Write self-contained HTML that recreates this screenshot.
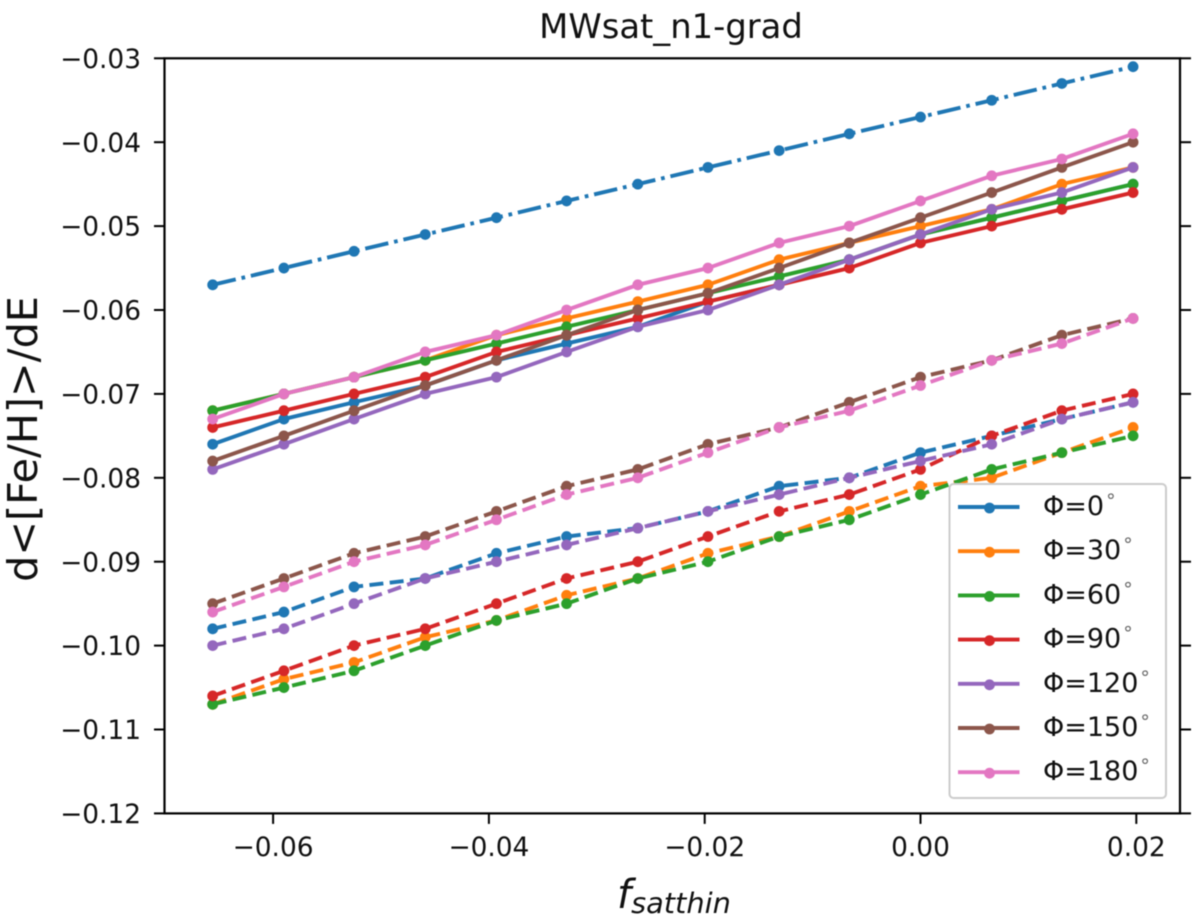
<!DOCTYPE html>
<html lang="en">
<head>
<meta charset="utf-8">
<title>MWsat_n1-grad</title>
<style>
  html, body { margin: 0; padding: 0; background: #fff; }
  body { width: 1200px; height: 921px; overflow: hidden; }
  svg { display: block; filter: blur(0.55px); }
  text { font-family: "DejaVu Sans", "Liberation Sans", sans-serif; fill: #111; }
</style>
</head>
<body>
<svg id="chart" xmlns="http://www.w3.org/2000/svg" width="1200" height="921" viewBox="0 0 1200 921">
  <rect x="0" y="0" width="1200" height="921" fill="#fff"/>
  <text x="671" y="38" font-size="33.8" text-anchor="middle">MWsat_n1-grad</text>
  <text transform="translate(37,439) rotate(-90)" font-size="41.3" text-anchor="middle">d&lt;[Fe/H]&gt;/dE</text>
  <text x="617" y="908" font-size="40" font-style="italic">f<tspan font-size="28.8" dy="5">satthin</tspan></text>
  <g id="series-layer"></g>
  <g id="axes-layer"></g>
  <g id="legend-layer"></g>
</svg>
<script>
// ---- data ----
var fSatthin = [-0.0656, -0.0590, -0.0525, -0.0459, -0.0393, -0.0328, -0.0262, -0.0197, -0.0131, -0.0066, 0.0000, 0.0066, 0.0131, 0.0197];

var phiLabels = ['0', '30', '60', '90', '120', '150', '180'];
var seriesColors = ['#1f77b4', '#ff7f0e', '#2ca02c', '#d62728', '#9467bd', '#8c564b', '#e377c2'];

var dashDotPhi0 = [-0.057, -0.055, -0.053, -0.051, -0.049, -0.047, -0.045, -0.043, -0.041, -0.039, -0.037, -0.035, -0.033, -0.031];

var solidPhi0   = [-0.076, -0.073, -0.071, -0.069, -0.066, -0.064, -0.062, -0.059, -0.057, -0.054, -0.051, -0.049, -0.047, -0.045];
var solidPhi30  = [-0.072, -0.070, -0.068, -0.066, -0.063, -0.061, -0.059, -0.057, -0.054, -0.052, -0.050, -0.048, -0.045, -0.043];
var solidPhi60  = [-0.072, -0.070, -0.068, -0.066, -0.064, -0.062, -0.060, -0.058, -0.056, -0.054, -0.051, -0.049, -0.047, -0.045];
var solidPhi90  = [-0.074, -0.072, -0.070, -0.068, -0.065, -0.063, -0.061, -0.059, -0.057, -0.055, -0.052, -0.050, -0.048, -0.046];
var solidPhi120 = [-0.079, -0.076, -0.073, -0.070, -0.068, -0.065, -0.062, -0.060, -0.057, -0.054, -0.051, -0.048, -0.046, -0.043];
var solidPhi150 = [-0.078, -0.075, -0.072, -0.069, -0.066, -0.063, -0.060, -0.058, -0.055, -0.052, -0.049, -0.046, -0.043, -0.040];
var solidPhi180 = [-0.073, -0.070, -0.068, -0.065, -0.063, -0.060, -0.057, -0.055, -0.052, -0.050, -0.047, -0.044, -0.042, -0.039];

var dashedPhi0   = [-0.098, -0.096, -0.093, -0.092, -0.089, -0.087, -0.086, -0.084, -0.081, -0.080, -0.077, -0.075, -0.073, -0.071];
var dashedPhi30  = [-0.107, -0.104, -0.102, -0.099, -0.097, -0.094, -0.092, -0.089, -0.087, -0.084, -0.081, -0.080, -0.077, -0.074];
var dashedPhi60  = [-0.107, -0.105, -0.103, -0.100, -0.097, -0.095, -0.092, -0.090, -0.087, -0.085, -0.082, -0.079, -0.077, -0.075];
var dashedPhi90  = [-0.106, -0.103, -0.100, -0.098, -0.095, -0.092, -0.090, -0.087, -0.084, -0.082, -0.079, -0.075, -0.072, -0.070];
var dashedPhi120 = [-0.100, -0.098, -0.095, -0.092, -0.090, -0.088, -0.086, -0.084, -0.082, -0.080, -0.078, -0.076, -0.073, -0.071];
var dashedPhi150 = [-0.095, -0.092, -0.089, -0.087, -0.084, -0.081, -0.079, -0.076, -0.074, -0.071, -0.068, -0.066, -0.063, -0.061];
var dashedPhi180 = [-0.096, -0.093, -0.090, -0.088, -0.085, -0.082, -0.080, -0.077, -0.074, -0.072, -0.069, -0.066, -0.064, -0.061];

var solidSeries = [solidPhi0, solidPhi30, solidPhi60, solidPhi90, solidPhi120, solidPhi150, solidPhi180];
var dashedSeries = [dashedPhi0, dashedPhi30, dashedPhi60, dashedPhi90, dashedPhi120, dashedPhi150, dashedPhi180];

var xTicks = [-0.06, -0.04, -0.02, 0.00, 0.02];
var xTickLabels = ['\u22120.06', '\u22120.04', '\u22120.02', '0.00', '0.02'];
var yTicks = [-0.03, -0.04, -0.05, -0.06, -0.07, -0.08, -0.09, -0.10, -0.11, -0.12];
var yTickLabels = ['\u22120.03', '\u22120.04', '\u22120.05', '\u22120.06', '\u22120.07', '\u22120.08', '\u22120.09', '\u22120.10', '\u22120.11', '\u22120.12'];

// ---- axis functions ----
var plotLeft = 164.5, plotRight = 1180, plotTop = 58.3, plotBottom = 813.4;
var xDomainMin = (plotLeft - 920.5) / 10790, xDomainMax = (plotRight - 920.5) / 10790;
var yDomainMax = -0.03, yDomainMin = -0.12;
function xScale(v) { return plotLeft + (v - xDomainMin) / (xDomainMax - xDomainMin) * (plotRight - plotLeft); }
function yScale(v) { return plotTop + (yDomainMax - v) / (yDomainMax - yDomainMin) * (plotBottom - plotTop); }

var NS = 'http://www.w3.org/2000/svg';
function svgEl(tag, parent) {
  var el = document.createElementNS(NS, tag);
  parent.appendChild(el);
  return el;
}

var LINE_WIDTH = 3.9, MARKER_R = 5.4;
var seriesLayer = document.getElementById('series-layer');

function drawSeries(values, color, dash, name) {
  var g = svgEl('g', seriesLayer);
  
  
  var pts = values.map(function (v, i) { return xScale(fSatthin[i]).toFixed(2) + ',' + yScale(v).toFixed(2); }).join(' ');
  var line = svgEl('polyline', g);
  
  
  line.setAttribute('points', pts);
  line.setAttribute('fill', 'none');
  line.setAttribute('stroke', color);
  line.setAttribute('stroke-width', LINE_WIDTH);
  line.setAttribute('stroke-linejoin', 'round');
  if (dash) { line.setAttribute('stroke-dasharray', dash); }
  values.forEach(function (v, i) {
    var c = svgEl('circle', g);
    
    
    c.setAttribute('cx', xScale(fSatthin[i]).toFixed(2));
    c.setAttribute('cy', yScale(v).toFixed(2));
    c.setAttribute('r', MARKER_R);
    c.setAttribute('fill', color);
  });
}

drawSeries(dashDotPhi0, seriesColors[0], '23.7 5.9 3.7 5.9', 'reference-dash-dot');
solidSeries.forEach(function (vals, i) {
  drawSeries(vals, seriesColors[i], null, 'solid-phi-' + phiLabels[i]);
});
dashedSeries.forEach(function (vals, i) {
  drawSeries(vals, seriesColors[i], '14 6.4', 'dashed-phi-' + phiLabels[i]);
});

// ---- axes ----
var axes = document.getElementById('axes-layer');
var frame = svgEl('rect', axes);


frame.setAttribute('x', plotLeft);
frame.setAttribute('y', plotTop);
frame.setAttribute('width', plotRight - plotLeft);
frame.setAttribute('height', plotBottom - plotTop);
frame.setAttribute('fill', 'none');
frame.setAttribute('stroke', '#000');
frame.setAttribute('stroke-width', '2.2');

function tickLine(x1, y1, x2, y2, name) {
  var t = svgEl('line', axes);
  
  
  t.setAttribute('x1', x1);
  t.setAttribute('y1', y1);
  t.setAttribute('x2', x2);
  t.setAttribute('y2', y2);
  t.setAttribute('stroke', '#000');
  t.setAttribute('stroke-width', '2');
}

yTicks.forEach(function (v, i) {
  var y = yScale(v);
  tickLine(plotLeft - 10.5, y, plotLeft, y, 'y-tick');
  tickLine(plotRight, y, plotRight + 11, y, 'y-tick-right');
  var t = svgEl('text', axes);
  
  
  t.setAttribute('x', 141);
  t.setAttribute('y', y + 9.6);
  t.setAttribute('font-size', '26.4');
  t.setAttribute('text-anchor', 'end');
  t.textContent = yTickLabels[i];
});

xTicks.forEach(function (v, i) {
  var x = xScale(v);
  tickLine(x, plotBottom, x, plotBottom + 10.5, 'x-tick');
  var t = svgEl('text', axes);
  
  
  t.setAttribute('x', x);
  t.setAttribute('y', 856);
  t.setAttribute('font-size', '26.4');
  t.setAttribute('text-anchor', 'middle');
  t.textContent = xTickLabels[i];
});

// ---- legend ----
var legend = document.getElementById('legend-layer');
var box = svgEl('rect', legend);


box.setAttribute('x', 949.5);
box.setAttribute('y', 484);
box.setAttribute('width', 216.5);
box.setAttribute('height', 314);
box.setAttribute('rx', 4);
box.setAttribute('fill', 'rgba(255,255,255,0.82)');
box.setAttribute('stroke', '#ccc');
box.setAttribute('stroke-width', '2');

phiLabels.forEach(function (label, i) {
  var rowY = 507 + i * 44.2;
  var g = svgEl('g', legend);
  
  
  var l = svgEl('line', g);
  
  
  l.setAttribute('x1', 958);
  l.setAttribute('x2', 1019.5);
  l.setAttribute('y1', rowY);
  l.setAttribute('y2', rowY);
  l.setAttribute('stroke', seriesColors[i]);
  l.setAttribute('stroke-width', LINE_WIDTH);
  var m = svgEl('circle', g);
  
  
  m.setAttribute('cx', 989.5);
  m.setAttribute('cy', rowY + 1);
  m.setAttribute('r', MARKER_R);
  m.setAttribute('fill', seriesColors[i]);
  var t = svgEl('text', g);
  
  
  t.setAttribute('x', 1043);
  t.setAttribute('y', rowY + 8);
  t.setAttribute('font-size', '27');
  t.appendChild(document.createTextNode('\u03A6=' + label));
  var deg = svgEl('tspan', t);
  deg.setAttribute('font-size', '19');
  deg.setAttribute('dy', '-8');
  deg.setAttribute('dx', '2');
  deg.setAttribute('fill', '#666');
  deg.textContent = '\u00B0';
});
</script>
</body>
</html>
